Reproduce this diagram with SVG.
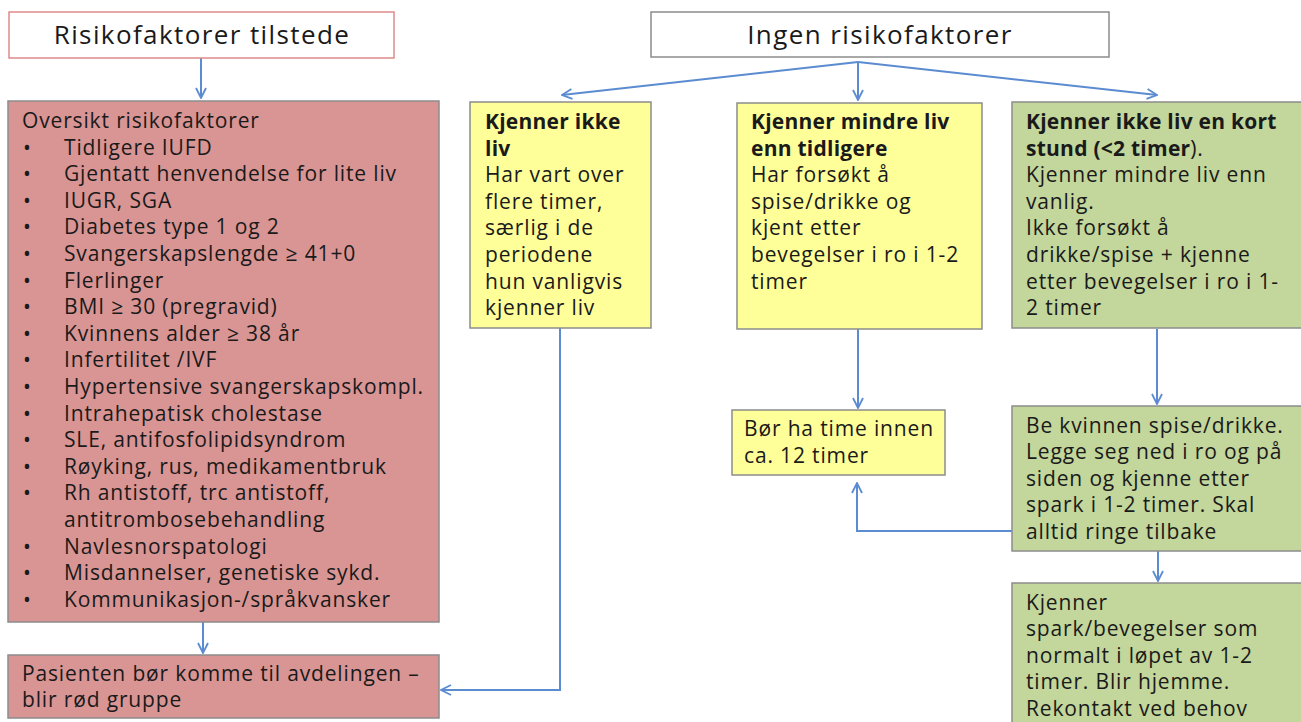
<svg xmlns="http://www.w3.org/2000/svg" width="1301" height="722" viewBox="0 0 1301 722">
<defs>
<marker id="arr" viewBox="0 0 12 12" refX="11" refY="6" markerWidth="12" markerHeight="12" markerUnits="userSpaceOnUse" orient="auto">
<path d="M1,1 L11,6 L1,11" fill="none" stroke="#5b8bd0" stroke-width="1.8"/>
</marker>
<style>
text{font-family:"Open Sans","Liberation Sans",sans-serif;fill:#1a1a1a;font-size:21px;letter-spacing:0.85px}
.b{font-weight:bold;letter-spacing:0.25px}
.t{font-size:26px;letter-spacing:1.4px}
.red{fill:#d99594;stroke:#8c8c8c;stroke-width:1.5}
.yel{fill:#ffff99;stroke:#8c8c8c;stroke-width:1.5}
.grn{fill:#c3d69b;stroke:#8c8c8c;stroke-width:1.5}
.c{fill:none;stroke:#5b8bd0;stroke-width:2}
</style>
</defs>
<rect width="1301" height="722" fill="#ffffff"/>
<g id="connectors">
<line class="c" x1="201" y1="58" x2="201" y2="98" marker-end="url(#arr)"/>
<line class="c" x1="203" y1="622" x2="203" y2="653" marker-end="url(#arr)"/>
<line class="c" x1="858" y1="62" x2="562" y2="95" marker-end="url(#arr)"/>
<line class="c" x1="858" y1="62" x2="858" y2="100" marker-end="url(#arr)"/>
<line class="c" x1="858" y1="62" x2="1157" y2="95" marker-end="url(#arr)"/>
<polyline class="c" points="560,328 560,690 441,690" marker-end="url(#arr)"/>
<line class="c" x1="858" y1="329" x2="858" y2="408" marker-end="url(#arr)"/>
<line class="c" x1="1157" y1="329" x2="1157" y2="404" marker-end="url(#arr)"/>
<polyline class="c" points="1012,531 857,531 857,483" marker-end="url(#arr)"/>
<line class="c" x1="1158" y1="551" x2="1158" y2="581" marker-end="url(#arr)"/>
</g>
<g id="n-risk">
<rect x="9" y="12" width="385" height="46" fill="#ffffff" stroke="#e08a8a" stroke-width="1.5"/>
<text class="t" x="202" y="44" text-anchor="middle">Risikofaktorer tilstede</text>
</g>
<g id="n-oversikt">
<rect class="red" x="8" y="101" width="431" height="521"/>
<text x="22" y="128">Oversikt risikofaktorer</text>
<g>
<text x="23" y="154.6">•</text><text x="64" y="154.6">Tidligere IUFD</text>
<text x="23" y="181.2">•</text><text x="64" y="181.2">Gjentatt henvendelse for lite liv</text>
<text x="23" y="207.8">•</text><text x="64" y="207.8">IUGR, SGA</text>
<text x="23" y="234.4">•</text><text x="64" y="234.4">Diabetes type 1 og 2</text>
<text x="23" y="261">•</text><text x="64" y="261">Svangerskapslengde ≥ 41+0</text>
<text x="23" y="287.6">•</text><text x="64" y="287.6">Flerlinger</text>
<text x="23" y="314.2">•</text><text x="64" y="314.2">BMI  ≥ 30 (pregravid)</text>
<text x="23" y="340.8">•</text><text x="64" y="340.8">Kvinnens alder ≥ 38 år</text>
<text x="23" y="367.4">•</text><text x="64" y="367.4">Infertilitet /IVF</text>
<text x="23" y="394">•</text><text x="64" y="394">Hypertensive svangerskapskompl.</text>
<text x="23" y="420.6">•</text><text x="64" y="420.6">Intrahepatisk cholestase</text>
<text x="23" y="447.2">•</text><text x="64" y="447.2">SLE, antifosfolipidsyndrom</text>
<text x="23" y="473.8">•</text><text x="64" y="473.8">Røyking, rus, medikamentbruk</text>
<text x="23" y="500.4">•</text><text x="64" y="500.4">Rh antistoff, trc antistoff,</text>
<text x="64" y="527">antitrombosebehandling</text>
<text x="23" y="553.6">•</text><text x="64" y="553.6">Navlesnorspatologi</text>
<text x="23" y="580.2">•</text><text x="64" y="580.2">Misdannelser, genetiske  sykd.</text>
<text x="23" y="606.8">•</text><text x="64" y="606.8">Kommunikasjon-/språkvansker</text>
</g>
</g>
<g id="n-pasient">
<rect class="red" x="8" y="655" width="431" height="63"/>
<text x="22" y="681">Pasienten bør komme til avdelingen –</text>
<text x="22" y="707">blir rød gruppe</text>
</g>
<g id="n-ingen">
<rect x="651" y="12" width="458" height="45" fill="#ffffff" stroke="#8c8c8c" stroke-width="1.5"/>
<text class="t" x="880" y="44" text-anchor="middle">Ingen risikofaktorer</text>
</g>
<g id="n-ikkeliv">
<rect class="yel" x="470" y="102" width="181" height="226"/>
<text class="b" x="485" y="129">Kjenner ikke</text>
<text class="b" x="485" y="155.6">liv</text>
<text x="485" y="182.2">Har vart over</text>
<text x="485" y="208.8">flere timer,</text>
<text x="485" y="235.4">særlig i de</text>
<text x="485" y="262">periodene</text>
<text x="485" y="288.6">hun vanligvis</text>
<text x="485" y="315.2">kjenner liv</text>
</g>
<g id="n-mindre">
<rect class="yel" x="737" y="103" width="245" height="226"/>
<text class="b" x="751" y="129">Kjenner mindre liv</text>
<text class="b" x="751" y="155.6">enn tidligere</text>
<text x="751" y="182.2">Har forsøkt å</text>
<text x="751" y="208.8">spise/drikke og</text>
<text x="751" y="235.4">kjent etter</text>
<text x="751" y="262">bevegelser i ro i 1-2</text>
<text x="751" y="288.6">timer</text>
</g>
<g id="n-kort">
<rect class="grn" x="1012" y="102" width="295" height="226"/>
<text x="1026" y="129"><tspan class="b">Kjenner ikke liv en kort</tspan></text>
<text x="1026" y="155.6"><tspan class="b">stund (&lt;2 timer</tspan>).</text>
<text x="1026" y="182.2">Kjenner mindre liv enn</text>
<text x="1026" y="208.8">vanlig.</text>
<text x="1026" y="235.4">Ikke forsøkt å</text>
<text x="1026" y="262">drikke/spise + kjenne</text>
<text x="1026" y="288.6">etter bevegelser i ro i 1-</text>
<text x="1026" y="315.2">2 timer</text>
</g>
<g id="n-time">
<rect class="yel" x="732" y="410" width="213" height="65"/>
<text x="744" y="436">Bør ha time innen</text>
<text x="744" y="462.6">ca. 12 timer</text>
</g>
<g id="n-spise">
<rect class="grn" x="1012" y="406" width="295" height="145"/>
<text x="1026" y="432.6">Be kvinnen spise/drikke.</text>
<text x="1026" y="459.2">Legge seg ned i ro og på</text>
<text x="1026" y="485.8">siden og kjenne etter</text>
<text x="1026" y="512.4">spark i 1-2 timer. Skal</text>
<text x="1026" y="539">alltid ringe tilbake</text>
</g>
<g id="n-hjemme">
<rect class="grn" x="1012" y="583" width="295" height="150"/>
<text x="1026" y="609.6">Kjenner</text>
<text x="1026" y="636.2">spark/bevegelser som</text>
<text x="1026" y="662.8">normalt i løpet av 1-2</text>
<text x="1026" y="689.4">timer. Blir hjemme.</text>
<text x="1026" y="716">Rekontakt ved behov</text>
</g>
</svg>
